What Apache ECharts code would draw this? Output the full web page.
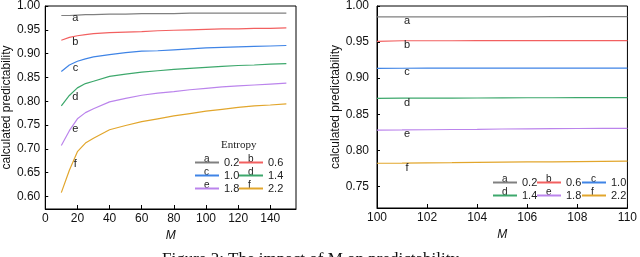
<!DOCTYPE html>
<html><head><meta charset="utf-8">
<script src="https://cdn.jsdelivr.net/npm/echarts@6/dist/echarts.min.js"></script>
<style>html,body{margin:0;padding:0;background:#fff}#c{width:640px;height:257px}</style>
</head><body><div id="c"></div><script>
const entropy = ['0.2','0.6','1.0','1.4','1.8','2.2'];
const letters = ['a','b','c','d','e','f'];
const colors = ['#808080','#f26060','#3f84e6','#3da86c','#bb84ec','#e2a62c'];

const mLeft = [10,15,20,25,30,40,50,60,70,80,90,100,110,120,130,140,150];
const leftA = [0.980,0.980,0.981,0.982,0.982,0.983,0.983,0.984,0.984,0.984,0.985,0.985,0.985,0.985,0.985,0.985,0.985];
const leftB = [0.928,0.934,0.9375,0.940,0.942,0.944,0.945,0.946,0.948,0.949,0.950,0.951,0.952,0.952,0.953,0.953,0.954];
const leftC = [0.8625,0.876,0.884,0.889,0.893,0.898,0.902,0.905,0.906,0.908,0.910,0.912,0.913,0.914,0.915,0.916,0.917];
const leftD = [0.790,0.812,0.828,0.837,0.842,0.852,0.857,0.861,0.864,0.867,0.869,0.871,0.873,0.875,0.876,0.878,0.879];
const leftE = [0.707,0.738,0.763,0.776,0.784,0.7985,0.806,0.8125,0.817,0.820,0.824,0.827,0.830,0.832,0.834,0.836,0.838];
const leftF = [0.608,0.655,0.694,0.712,0.722,0.740,0.749,0.757,0.763,0.769,0.774,0.779,0.783,0.787,0.790,0.792,0.7945];

const mRight = [100,101,102,103,104,105,106,107,108,109,110];
const rightA = [0.9850,0.9850,0.9850,0.9850,0.9850,0.9850,0.9850,0.9853,0.9853,0.9853,0.9853];
const rightB = [0.9510,0.9518,0.9518,0.9518,0.9519,0.9519,0.9519,0.9520,0.9520,0.9520,0.9520];
const rightC = [0.9135,0.9137,0.9140,0.9140,0.9140,0.9140,0.9140,0.9140,0.9140,0.9140,0.9140];
const rightD = [0.8720,0.8722,0.8723,0.8724,0.8725,0.8727,0.8728,0.8728,0.8729,0.8730,0.8730];
const rightE = [0.8280,0.8282,0.8285,0.8288,0.8290,0.8295,0.8298,0.8300,0.8302,0.8304,0.8305];
const rightF = [0.7820,0.7822,0.7825,0.7828,0.7832,0.7835,0.7838,0.7840,0.7843,0.7846,0.7850];

const xTicksLeft = [0,20,40,60,80,100,120,140];
const xTicksRight = [100,102,104,106,108,110];

const leftVals = [leftA,leftB,leftC,leftD,leftE,leftF];
const rightVals = [rightA,rightB,rightC,rightD,rightE,rightF];
const leftLabelOff = [[-2,2.5],[-2,6.7],[-2,6.7],[-2,9],[-2,10],[-2,12]];
const rightLabelOff = [[5,4.3],[5,4.3],[5,4],[5,5],[5,4],[5,5]];

const FONT = 'Liberation Sans, Arial, sans-serif';
const SERIF = 'Liberation Serif, Times New Roman, serif';

function mk(i, xs, vals, labelIdx, off, gi) {
  return {
    type: 'line', name: entropy[i], xAxisIndex: gi, yAxisIndex: gi,
    color: colors[i], symbol: 'circle', symbolSize: 0, showSymbol: true, showAllSymbol: true,
    lineStyle: { width: 1.2, color: colors[i] }, animation: false, silent: true,
    data: xs.map((m, j) => {
      const d = { value: [m, vals[j]] };
      if (j === labelIdx) d.label = { show: true, position: 'inside', offset: off, formatter: letters[i],
        fontSize: 11, color: '#222', fontFamily: FONT };
      return d;
    })
  };
}
const series = [];
for (let i = 0; i < 6; i++) series.push(mk(i, mLeft, leftVals[i], 2, leftLabelOff[i], 0));
for (let i = 0; i < 6; i++) series.push(mk(i, mRight, rightVals[i], 1, rightLabelOff[i], 1));

const yFmt = v => Math.abs(v / 0.05 - Math.round(v / 0.05)) < 1e-6 ? v.toFixed(2) : '';

function xAxis(gi, min, max, interval, ticks) {
  return { type: 'value', gridIndex: gi, min, max, interval,
    name: 'M', nameLocation: 'middle', nameGap: 16,
    nameTextStyle: { fontStyle: 'italic', fontSize: 12, color: '#111', fontFamily: FONT },
    axisLine: { lineStyle: { color: '#000', width: 1 } },
    axisTick: { inside: true, length: 4, lineStyle: { color: '#000' } },
    axisLabel: { margin: 4, fontSize: 12, color: '#111', fontFamily: FONT, showMaxLabel: ticks.includes(max),
      formatter: v => ticks.includes(v) ? String(v) : '' },
    splitLine: { show: false } };
}
function yAxis(gi, min, max, split, gap, margin) {
  return { type: 'value', gridIndex: gi, min, max, splitNumber: split,
    name: 'calculated predictability', nameLocation: 'middle', nameGap: gap, nameRotate: 90,
    nameTextStyle: { fontSize: 12, color: '#111', fontFamily: FONT },
    axisLine: { show: true, lineStyle: { color: '#000', width: 1 } },
    axisTick: { show: true, inside: true, length: 3, lineStyle: { color: '#000' } },
    axisLabel: { margin, fontSize: 12, color: '#111', fontFamily: FONT, formatter: yFmt, showMinLabel: false },
    splitLine: { show: false } };
}

// legend layout
const legendCols = [
  { left: 195, top: 157, names: ['0.2','1.0','1.8'] },
  { left: 239, top: 157, names: ['0.6','1.4','2.2'] },
  { left: 493, top: 177, names: ['0.2','1.4'] },
  { left: 537, top: 177, names: ['0.6','1.8'] },
  { left: 582, top: 177, names: ['1.0','2.2'] }
];
const ITEM_W = 24, ROW = 13;
const legends = legendCols.map(c => ({
  orient: 'vertical', left: c.left, top: c.top, padding: 0, itemGap: 2,
  itemWidth: ITEM_W, itemHeight: 2, icon: 'rect', selectedMode: false,
  textStyle: { fontSize: 11, color: '#222', fontFamily: FONT },
  data: c.names
}));
const graphics = [];
legendCols.forEach(c => c.names.forEach((n, r) => {
  graphics.push({ type: 'text', left: c.left + ITEM_W / 2 - 3, top: c.top + r * ROW - 3,
    style: { text: letters[entropy.indexOf(n)], fontSize: 10, fill: '#222', font: '10px ' + FONT } });
}));
graphics.push({ type: 'text', left: 221, top: 140,
  style: { text: 'Entropy', fill: '#222', font: '11px ' + SERIF } });
graphics.push({ type: 'text', left: 162, top: 251,
  style: { text: 'Figure 2: The impact of M on predictability', fill: '#111', font: '17px ' + SERIF } });

const chart = echarts.init(document.getElementById('c'), null, { renderer: 'canvas' });
chart.setOption({
  animation: false,
  backgroundColor: '#fff',
  grid: [
    { left: 41, right: 344, top: 4, bottom: 48, show: true, borderColor: '#000', borderWidth: 1, containLabel: false },
    { left: 377, right: 9, top: 4, bottom: 49, show: true, borderColor: '#000', borderWidth: 1, containLabel: false }
  ],
  xAxis: [ xAxis(0, 0, 156, 20, xTicksLeft), xAxis(1, 100, 110, 2, xTicksRight) ],
  yAxis: [ yAxis(0, 0.5735, 1.0, 8, 26, 5), yAxis(1, 0.72, 1.0, 5, 30, 8) ],
  legend: legends,
  graphic: graphics,
  series
});
</script></body></html>
